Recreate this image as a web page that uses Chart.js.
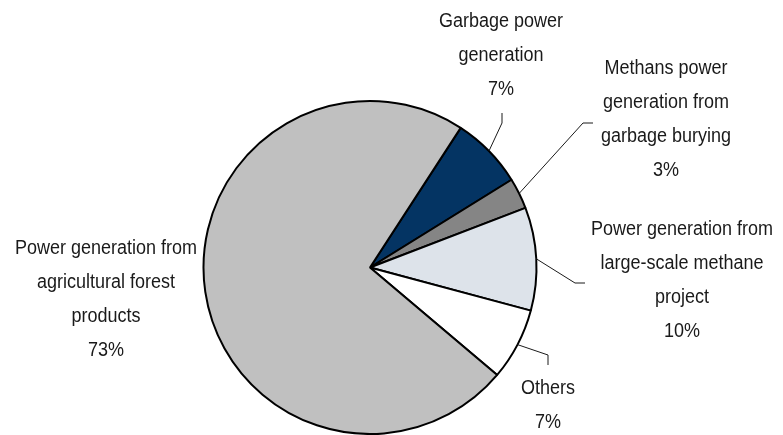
<!DOCTYPE html>
<html>
<head>
<meta charset="utf-8">
<script src="https://cdn.jsdelivr.net/npm/chart.js@4.4.1/dist/chart.umd.min.js"></script>
<style>
  html, body { margin: 0; padding: 0; background: #fff; }
  canvas { display: block; }
</style>
</head>
<body>
<canvas id="pie" width="783" height="435"></canvas>
<script>
const categories = [
  'Garbage power generation',
  'Methans power generation from garbage burying',
  'Power generation from large-scale methane project',
  'Others',
  'Power generation from agricultural forest products'
];
const shares = [7, 3, 10, 7, 73];
// how each category name is broken into lines in its callout
const labelLines = [
  ['Garbage power', 'generation'],
  ['Methans power', 'generation from', 'garbage burying'],
  ['Power generation from', 'large-scale methane', 'project'],
  ['Others'],
  ['Power generation from', 'agricultural forest', 'products']
];

const sliceColors = ['#043463', '#858585', '#dde3ea', '#ffffff', '#c0c0c0'];

// callout placement: text centre x, first line y, leader elbow points
const callouts = [
  { x: 501, y: 21, path: [[502, 123], [502, 113]] },
  { x: 666, y: 68, path: [[583, 123], [593, 123]] },
  { x: 682, y: 229, path: [[575, 283], [585, 283]] },
  { x: 548, y: 388, path: [[548, 355], [548, 365]] },
  { x: 106, y: 248, path: null }
];
const lineHeight = 34.2;

const calloutPlugin = {
  id: 'callouts',
  afterDatasetsDraw(chart) {
    const ctx = chart.ctx;
    const meta = chart.getDatasetMeta(0);
    ctx.save();
    meta.data.forEach((arc, i) => {
      const c = callouts[i];
      const p = arc.getProps(['x', 'y', 'startAngle', 'endAngle', 'outerRadius'], true);
      if (c.path) {
        const mid = (p.startAngle + p.endAngle) / 2;
        ctx.beginPath();
        ctx.moveTo(p.x + Math.cos(mid) * p.outerRadius, p.y + Math.sin(mid) * p.outerRadius);
        c.path.forEach(([px, py]) => ctx.lineTo(px, py));
        ctx.strokeStyle = '#1a1a1a';
        ctx.lineWidth = 1;
        ctx.stroke();
      }
      const lines = labelLines[i].concat([shares[i] + '%']);
      ctx.fillStyle = '#1a1a1a';
      ctx.font = '20px "Liberation Sans", Arial, sans-serif';
      ctx.textAlign = 'center';
      ctx.textBaseline = 'middle';
      lines.forEach((t, k) => {
        ctx.save();
        ctx.translate(c.x, c.y + k * lineHeight);
        ctx.scale(0.9, 1);
        ctx.fillText(t, 0, 0);
        ctx.restore();
      });
    });
    ctx.restore();
  }
};

new Chart(document.getElementById('pie'), {
  type: 'pie',
  data: {
    labels: categories,
    datasets: [{
      data: shares,
      backgroundColor: sliceColors,
      borderColor: '#000',
      borderWidth: 2,
      hoverOffset: 0
    }]
  },
  options: {
    responsive: false,
    animation: false,
    rotation: 33,
    layout: { padding: { top: 100, bottom: 0, left: 202, right: 245 } },
    plugins: {
      legend: { display: false },
      tooltip: { enabled: false }
    }
  },
  plugins: [calloutPlugin]
});
</script>
</body>
</html>
